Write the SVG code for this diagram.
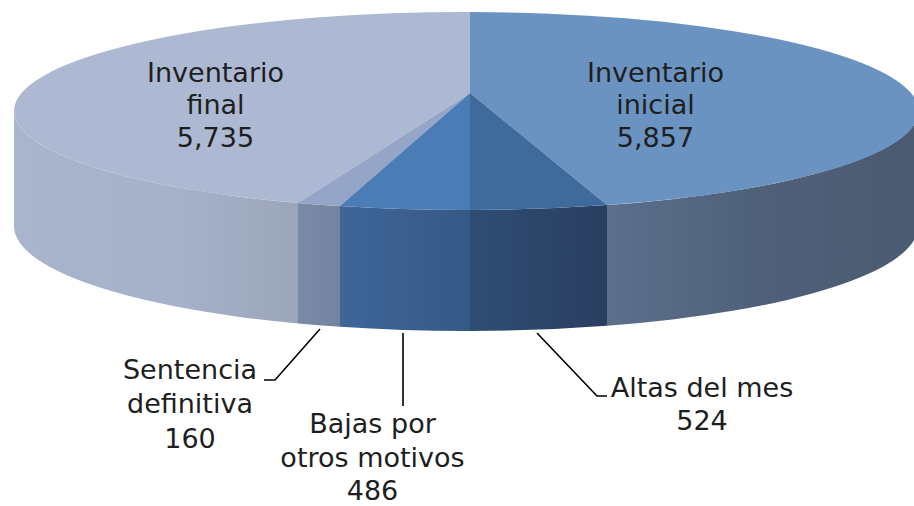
<svg xmlns="http://www.w3.org/2000/svg" width="914" height="506" viewBox="0 0 914 506">
  <style>
    .lbl { font-family: "DejaVu Sans", "Liberation Sans", sans-serif; font-size: 27px; fill: #1e1e1e; text-anchor: middle; }
    .lead { fill: none; stroke: #000; stroke-width: 1.6; }
  </style>
  <defs>
    <linearGradient id="gFinalSide" x1="14" y1="0" x2="298" y2="0" gradientUnits="userSpaceOnUse">
      <stop offset="0" stop-color="#a9b5cd"/>
      <stop offset="0.6" stop-color="#a5b1c9"/>
      <stop offset="1" stop-color="#9ca6ba"/>
    </linearGradient>
    <linearGradient id="gSentSide" x1="298" y1="0" x2="340" y2="0" gradientUnits="userSpaceOnUse">
      <stop offset="0" stop-color="#7b8aa6"/>
      <stop offset="1" stop-color="#7483a0"/>
    </linearGradient>
    <linearGradient id="gBajasSide" x1="340" y1="0" x2="470" y2="0" gradientUnits="userSpaceOnUse">
      <stop offset="0" stop-color="#3e6699"/>
      <stop offset="1" stop-color="#365886"/>
    </linearGradient>
    <linearGradient id="gAltasSide" x1="470" y1="0" x2="607" y2="0" gradientUnits="userSpaceOnUse">
      <stop offset="0" stop-color="#2f4d73"/>
      <stop offset="1" stop-color="#293f62"/>
    </linearGradient>
    <linearGradient id="gInicSide" x1="607" y1="0" x2="914" y2="0" gradientUnits="userSpaceOnUse">
      <stop offset="0" stop-color="#5c6f8b"/>
      <stop offset="0.5" stop-color="#4f6079"/>
      <stop offset="1" stop-color="#4a5a71"/>
    </linearGradient>
  </defs>

  <g id="inventario-final">
    <path d="M14,111 A452,99 0 0 0 298,202.9 L298,323.5 A452,105 0 0 1 14,226 Z" fill="url(#gFinalSide)"/>
    <path d="M470,93 L298,202.9 A452,99 0 0 1 470,12 Z" fill="#adb9d3"/>
    <text class="lbl" x="215.5" y="82">Inventario</text>
    <text class="lbl" x="215.5" y="114">final</text>
    <text class="lbl" x="215.5" y="147">5,735</text>
  </g>

  <g id="inventario-inicial">
    <path d="M607,205.1 A452,99 0 0 0 918,111 L918,226 A452,105 0 0 1 607,325.8 Z" fill="url(#gInicSide)"/>
    <path d="M470,93 L470,12 A452,99 0 0 1 607,205.1 Z" fill="#6b93c1"/>
    <text class="lbl" x="655.5" y="82">Inventario</text>
    <text class="lbl" x="655.5" y="114">inicial</text>
    <text class="lbl" x="655.5" y="147">5,857</text>
  </g>

  <g id="sentencia-definitiva">
    <path d="M298,202.9 A452,99 0 0 0 340,206.1 L340,326.8 A452,105 0 0 1 298,323.5 Z" fill="url(#gSentSide)"/>
    <path d="M470,93 L340,206.1 A452,99 0 0 1 298,202.9 Z" fill="#94a5c7"/>
    <text class="lbl" x="190" y="379">Sentencia</text>
    <text class="lbl" x="190" y="413">definitiva</text>
    <text class="lbl" x="190" y="448">160</text>
  </g>

  <g id="bajas-otros-motivos">
    <path d="M340,206.1 A452,99 0 0 0 470,210 L470,331 A452,105 0 0 1 340,326.8 Z" fill="url(#gBajasSide)"/>
    <path d="M470,93 L470,210 A452,99 0 0 1 340,206.1 Z" fill="#4a7cb6"/>
    <text class="lbl" x="372.5" y="433">Bajas por</text>
    <text class="lbl" x="372.5" y="467">otros motivos</text>
    <text class="lbl" x="372.5" y="500">486</text>
  </g>

  <g id="altas-del-mes">
    <path d="M470,210 A452,99 0 0 0 607,205.1 L607,325.8 A452,105 0 0 1 470,331 Z" fill="url(#gAltasSide)"/>
    <path d="M470,93 L607,205.1 A452,99 0 0 1 470,210 Z" fill="#3f6a9c"/>
    <text class="lbl" x="702" y="397">Altas del mes</text>
    <text class="lbl" x="702" y="430">524</text>
  </g>

  <g id="connectors">
    <path class="lead" d="M320,329 L275,380 L264,380"/>
    <path class="lead" d="M403,333 L403,406"/>
    <path class="lead" d="M537,333 L597,396 L607,396"/>
  </g>
</svg>
